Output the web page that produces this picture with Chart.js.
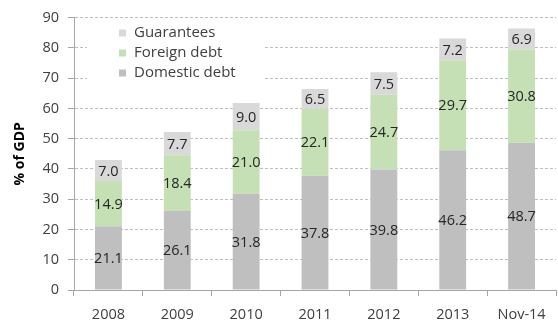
<!DOCTYPE html>
<html>
<head>
<meta charset="utf-8">
<script src="https://cdn.jsdelivr.net/npm/chart.js@4.4.0/dist/chart.umd.min.js"></script>
<style>
html,body{margin:0;padding:0;background:#fff;}
#wrap{width:558px;height:322px;}
</style>
</head>
<body>
<div id="wrap"><canvas id="c" width="558" height="322"></canvas></div>
<script>
const categories = ['2008','2009','2010','2011','2012','2013','Nov-14'];
const domestic = [21.1, 26.1, 31.8, 37.8, 39.8, 46.2, 48.7];
const foreign = [14.9, 18.4, 21.0, 22.1, 24.7, 29.7, 30.8];
const guarantees = [7.0, 7.7, 9.0, 6.5, 7.5, 7.2, 6.9];
const yTicks = [0,10,20,30,40,50,60,70,80,90];

const FONT = 'Open Sans';
const TXT = '#404040';

const labelPlugin = {
  id: 'barLabels',
  afterDatasetsDraw(chart) {
    const ctx = chart.ctx;
    ctx.save();
    ctx.font = '14.5px "' + FONT + '"';
    ctx.fillStyle = '#262626';
    ctx.textAlign = 'center';
    ctx.textBaseline = 'middle';
    chart.data.datasets.forEach((ds, di) => {
      const meta = chart.getDatasetMeta(di);
      meta.data.forEach((bar, i) => {
        const v = ds.data[i];
        const p = bar.getProps(['x','y','base'], true);
        ctx.fillText(v.toFixed(1), p.x, (p.y + p.base) / 2 + 1);
      });
    });
    ctx.restore();
  }
};

const legendPlugin = {
  id: 'innerLegend',
  beforeDatasetsDraw(chart) {
    const ctx = chart.ctx;
    ctx.save();
    ctx.fillStyle = '#ffffff';
    ctx.fillRect(87, 20, 178, 64);
    const order = [2, 1, 0];
    ctx.font = '15px "' + FONT + '"';
    ctx.textBaseline = 'middle';
    ctx.textAlign = 'left';
    order.forEach((di, k) => {
      const ds = chart.data.datasets[di];
      const cy = 33 + k * 20;
      ctx.fillStyle = ds.backgroundColor;
      ctx.fillRect(119, cy - 3.5, 7, 7);
      ctx.fillStyle = TXT;
      ctx.fillText(ds.label, 134, cy);
    });
    ctx.restore();
  }
};

new Chart(document.getElementById('c'), {
  type: 'bar',
  data: {
    labels: categories,
    datasets: [
      { label: 'Domestic debt', data: domestic, backgroundColor: '#BFBFBF' },
      { label: 'Foreign debt', data: foreign, backgroundColor: '#C4E0B4' },
      { label: 'Guarantees', data: guarantees, backgroundColor: '#D9D9D9' }
    ]
  },
  options: {
    responsive: false,
    animation: false,
    events: [],
    layout: { padding: { left: 0, right: 2, top: 14, bottom: 0 } },
    datasets: { bar: { categoryPercentage: 1, barPercentage: 0.39 } },
    plugins: { legend: { display: false }, tooltip: { enabled: false } },
    scales: {
      x: {
        stacked: true,
        afterFit(s) { s.height = 32; },
        grid: { drawOnChartArea: false, drawTicks: true, tickLength: 6, tickColor: '#A6A6A6', offset: true },
        border: { display: true, color: '#A6A6A6', width: 1 },
        ticks: { color: TXT, font: { family: FONT, size: 14.5 }, padding: 10, maxRotation: 0 }
      },
      y: {
        stacked: true,
        min: 0, max: 90,
        afterFit(s) { s.width = 74; },
        afterBuildTicks(s) { s.ticks = yTicks.map(v => ({ value: v })); },
        grid: {
          color: (c) => c.tick && c.tick.value === 0 ? 'rgba(0,0,0,0)' : '#BFBFBF',
          tickColor: '#A6A6A6', tickLength: 6, drawTicks: true
        },
        border: { display: true, color: '#A6A6A6', width: 1, dash: [3, 2] },
        ticks: { color: TXT, font: { family: FONT, size: 14.5 }, padding: 9 },
        title: { display: true, text: '% of GDP', color: '#000', font: { family: FONT, size: 14, weight: 'bold' }, padding: { top: 12, bottom: 4 } }
      }
    }
  },
  plugins: [legendPlugin, labelPlugin]
});
</script>
</body>
</html>
